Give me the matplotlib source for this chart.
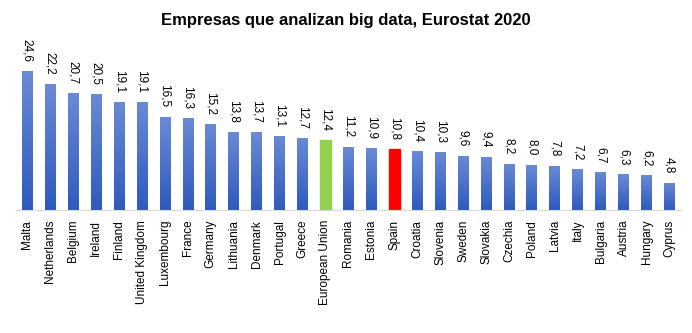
import numpy as np
import matplotlib
matplotlib.use("Agg")
import matplotlib.pyplot as plt
from matplotlib.colors import LinearSegmentedColormap

# data
countries = ["Malta", "Netherlands", "Belgium", "Ireland", "Finland", "United Kingdom",
             "Luxembourg", "France", "Germany", "Lithuania", "Denmark", "Portugal", "Greece",
             "European Union", "Romania", "Estonia", "Spain", "Croatia", "Slovenia", "Sweden",
             "Slovakia", "Czechia", "Poland", "Latvia", "Italy", "Bulgaria", "Austria",
             "Hungary", "Cyprus"]
values = [24.6, 22.2, 20.7, 20.5, 19.1, 19.1, 16.5, 16.3, 15.2, 13.8, 13.7, 13.1, 12.7,
          12.4, 11.2, 10.9, 10.8, 10.4, 10.3, 9.6, 9.4, 8.2, 8.0, 7.8, 7.2, 6.7, 6.3,
          6.2, 4.8]
highlight = {"European Union": "#92d050", "Spain": "#ff0000"}

plt.rcParams['font.family'] = ['Liberation Sans', 'DejaVu Sans']

fig = plt.figure(figsize=(6.92, 3.33), dpi=100)
ax = fig.add_axes([0.023, 0.369, 0.961, 0.511])

x = np.arange(len(countries))
bars = ax.bar(x, values, width=0.47, color="#4472c4", zorder=2)

# blue gradient, lighter on top, darker at the base
grad = LinearSegmentedColormap.from_list("g", ["#2f5bbe", "#6a8ad4"])
gimg = np.linspace(0, 1, 100).reshape(-1, 1)
for bar, name in zip(bars, countries):
    if name in highlight:
        bar.set_color(highlight[name])
        continue
    bx, by = bar.get_x(), bar.get_y()
    im = ax.imshow(gimg, cmap=grad, origin="lower", aspect="auto",
                   extent=[bx, bx + bar.get_width(), by, by + bar.get_height()], zorder=3)
    im.set_clip_path(bar)

for xi, v in zip(x, values):
    ax.annotate(f"{v:.1f}".replace(".", ","), (xi, v), xytext=(0, 6.5),
                textcoords="offset points", rotation=270, ha="center", va="bottom",
                fontsize=8.5)

ax.set_xlim(-0.5, len(countries) - 0.5)
ax.set_ylim(0, 30)
ax.set_xticks(x)
ax.set_xticklabels(countries, rotation=90, fontsize=8.5)
ax.tick_params(axis="x", length=0, pad=7)
ax.set_yticks([])
for s in ["top", "left", "right"]:
    ax.spines[s].set_visible(False)
ax.spines["bottom"].set_color("#d9d9d9")
ax.spines["bottom"].set_zorder(4)

fig.text(0.5, 1 - 20 / 333, "Empresas que analizan big data, Eurostat 2020",
         ha="center", va="center", fontsize=12, fontweight="bold")

fig.savefig("out.png", dpi=100)
